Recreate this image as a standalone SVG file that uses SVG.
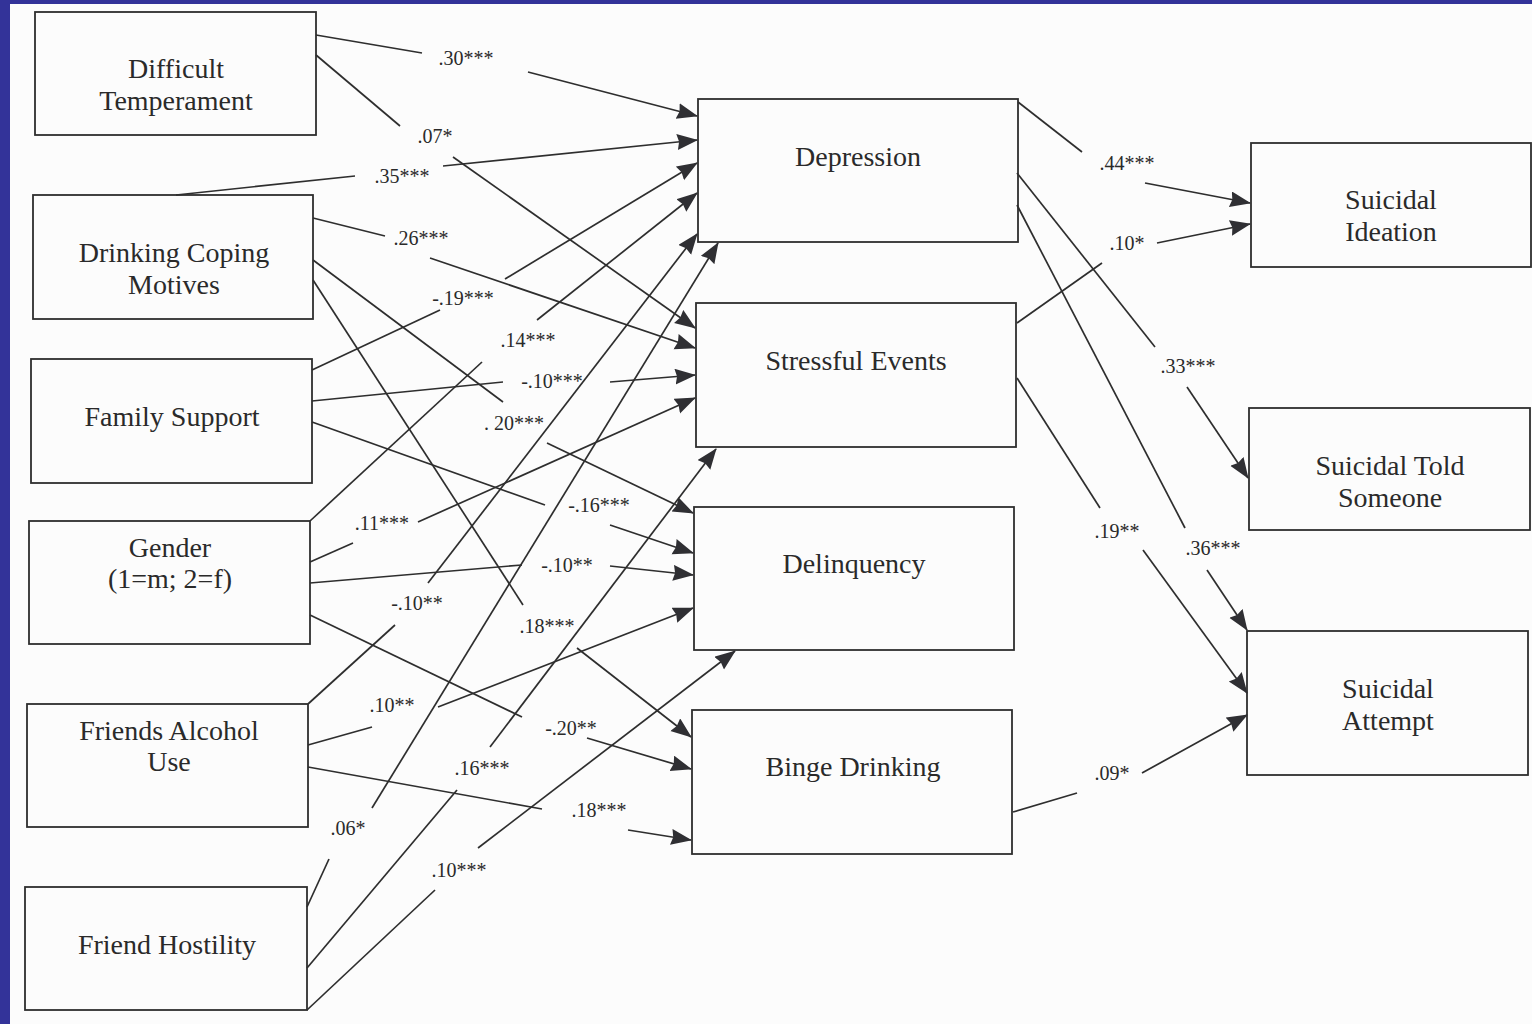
<svg xmlns="http://www.w3.org/2000/svg" width="1532" height="1024" viewBox="0 0 1532 1024">
<style>
.node rect{fill:none;stroke:#2e2e2e;stroke-width:1.8}
.node text{font-family:"Liberation Serif","Times New Roman",serif;font-size:28px;fill:#2a2a2a;text-anchor:middle}
.conn line{stroke:#2e2e2e;stroke-width:1.7;fill:none}
.conn line.a{marker-end:url(#ah)}
.lbl{font-family:"Liberation Serif","Times New Roman",serif;font-size:20px;fill:#2a2a2a;text-anchor:middle}
</style>
<defs>
<marker id="ah" markerUnits="userSpaceOnUse" markerWidth="22" markerHeight="18" refX="20" refY="8" orient="auto">
<path d="M0,0 L21,8 L0,16 L2,8 z" fill="#2f2f33"/>
</marker>
</defs>
<rect x="0" y="0" width="1532" height="1024" fill="#fcfcfc"/>
<rect x="0" y="0" width="1532" height="4" fill="#333399"/>
<rect x="0" y="0" width="10" height="1024" fill="#333399"/>

<g id="difficult-temperament" class="node"><rect x="35" y="12" width="281" height="123"/><text x="176" y="78">Difficult</text><text x="176" y="110">Temperament</text></g>
<g id="drinking-coping-motives" class="node"><rect x="33" y="195" width="280" height="124"/><text x="174" y="262">Drinking Coping</text><text x="174" y="294">Motives</text></g>
<g id="family-support" class="node"><rect x="31" y="359" width="281" height="124"/><text x="172" y="426">Family Support</text></g>
<g id="gender" class="node"><rect x="29" y="521" width="281" height="123"/><text x="170" y="557">Gender</text><text x="170" y="588">(1=m; 2=f)</text></g>
<g id="friends-alcohol-use" class="node"><rect x="27" y="704" width="281" height="123"/><text x="169" y="740">Friends Alcohol</text><text x="169" y="771">Use</text></g>
<g id="friend-hostility" class="node"><rect x="25" y="887" width="282" height="123"/><text x="167" y="954">Friend Hostility</text></g>

<g id="depression" class="node"><rect x="698" y="99" width="320" height="143"/><text x="858" y="166">Depression</text></g>
<g id="stressful-events" class="node"><rect x="696" y="303" width="320" height="144"/><text x="856" y="370">Stressful Events</text></g>
<g id="delinquency" class="node"><rect x="694" y="507" width="320" height="143"/><text x="854" y="573">Delinquency</text></g>
<g id="binge-drinking" class="node"><rect x="692" y="710" width="320" height="144"/><text x="853" y="776">Binge Drinking</text></g>

<g id="suicidal-ideation" class="node"><rect x="1251" y="143" width="280" height="124"/><text x="1391" y="209">Suicidal</text><text x="1391" y="241">Ideation</text></g>
<g id="suicidal-told-someone" class="node"><rect x="1249" y="408" width="281" height="122"/><text x="1390" y="475">Suicidal Told</text><text x="1390" y="507">Someone</text></g>
<g id="suicidal-attempt" class="node"><rect x="1247" y="631" width="281" height="144"/><text x="1388" y="698">Suicidal</text><text x="1388" y="730">Attempt</text></g>

<g id="connectors" class="conn">
<line x1="316" y1="35" x2="422" y2="53"/><line class="a" x1="528" y1="72" x2="697" y2="116"/>
<line x1="316" y1="55" x2="400" y2="126"/><line class="a" x1="453" y1="157" x2="695" y2="328"/>
<line x1="176" y1="195" x2="355" y2="176"/><line class="a" x1="443" y1="166" x2="697" y2="140"/>
<line x1="313" y1="218" x2="385" y2="236"/><line class="a" x1="430" y1="258" x2="695" y2="348"/>
<line x1="312" y1="370" x2="440" y2="310"/><line class="a" x1="505" y1="279" x2="697" y2="163"/>
<line x1="310" y1="521" x2="482" y2="362"/><line class="a" x1="537" y1="320" x2="697" y2="193"/>
<line x1="312" y1="401" x2="503" y2="382"/><line class="a" x1="610" y1="382" x2="695" y2="375"/>
<line x1="313" y1="260" x2="503" y2="402"/><line class="a" x1="547" y1="443" x2="693" y2="513"/>
<line x1="312" y1="422" x2="545" y2="505"/><line class="a" x1="610" y1="525" x2="693" y2="553"/>
<line x1="310" y1="562" x2="353" y2="543"/><line class="a" x1="418" y1="522" x2="695" y2="398"/>
<line x1="310" y1="583" x2="522" y2="565"/><line class="a" x1="610" y1="566" x2="693" y2="575"/>
<line x1="313" y1="280" x2="523" y2="605"/><line class="a" x1="577" y1="648" x2="691" y2="737"/>
<line x1="308" y1="704" x2="395" y2="625"/><line class="a" x1="428" y1="583" x2="697" y2="234"/>
<line x1="310" y1="615" x2="522" y2="717"/><line class="a" x1="587" y1="738" x2="691" y2="769"/>
<line x1="308" y1="745" x2="372" y2="727"/><line class="a" x1="438" y1="707" x2="693" y2="608"/>
<line x1="308" y1="767" x2="542" y2="809"/><line class="a" x1="628" y1="830" x2="691" y2="840"/>
<line x1="307" y1="907" x2="329" y2="859"/><line class="a" x1="372" y1="808" x2="718" y2="243"/>
<line x1="307" y1="968" x2="457" y2="790"/><line class="a" x1="490" y1="747" x2="716" y2="449"/>
<line x1="307" y1="1010" x2="435" y2="890"/><line class="a" x1="478" y1="848" x2="735" y2="651"/>
<line x1="1018" y1="102" x2="1082" y2="152"/><line class="a" x1="1145" y1="183" x2="1250" y2="203"/>
<line x1="1017" y1="323" x2="1102" y2="263"/><line class="a" x1="1157" y1="243" x2="1250" y2="224"/>
<line x1="1017" y1="173" x2="1155" y2="347"/><line class="a" x1="1187" y1="387" x2="1248" y2="478"/>
<line x1="1017" y1="205" x2="1185" y2="528"/><line class="a" x1="1207" y1="570" x2="1247" y2="630"/>
<line x1="1017" y1="378" x2="1100" y2="508"/><line class="a" x1="1143" y1="550" x2="1247" y2="693"/>
<line x1="1013" y1="812" x2="1077" y2="793"/><line class="a" x1="1142" y1="773" x2="1247" y2="715"/>
</g>

<g id="labels">
<text class="lbl" x="466" y="65">.30***</text>
<text class="lbl" x="435" y="143">.07*</text>
<text class="lbl" x="402" y="183">.35***</text>
<text class="lbl" x="421" y="245">.26***</text>
<text class="lbl" x="463" y="305">-.19***</text>
<text class="lbl" x="528" y="347">.14***</text>
<text class="lbl" x="552" y="388">-.10***</text>
<text class="lbl" x="514" y="430">. 20***</text>
<text class="lbl" x="382" y="530">.11***</text>
<text class="lbl" x="599" y="512">-.16***</text>
<text class="lbl" x="567" y="572">-.10**</text>
<text class="lbl" x="417" y="610">-.10**</text>
<text class="lbl" x="547" y="633">.18***</text>
<text class="lbl" x="392" y="712">.10**</text>
<text class="lbl" x="571" y="735">-.20**</text>
<text class="lbl" x="482" y="775">.16***</text>
<text class="lbl" x="599" y="817">.18***</text>
<text class="lbl" x="348" y="835">.06*</text>
<text class="lbl" x="459" y="877">.10***</text>
<text class="lbl" x="1127" y="170">.44***</text>
<text class="lbl" x="1127" y="250">.10*</text>
<text class="lbl" x="1188" y="373">.33***</text>
<text class="lbl" x="1117" y="538">.19**</text>
<text class="lbl" x="1213" y="555">.36***</text>
<text class="lbl" x="1112" y="780">.09*</text>
</g>
</svg>
